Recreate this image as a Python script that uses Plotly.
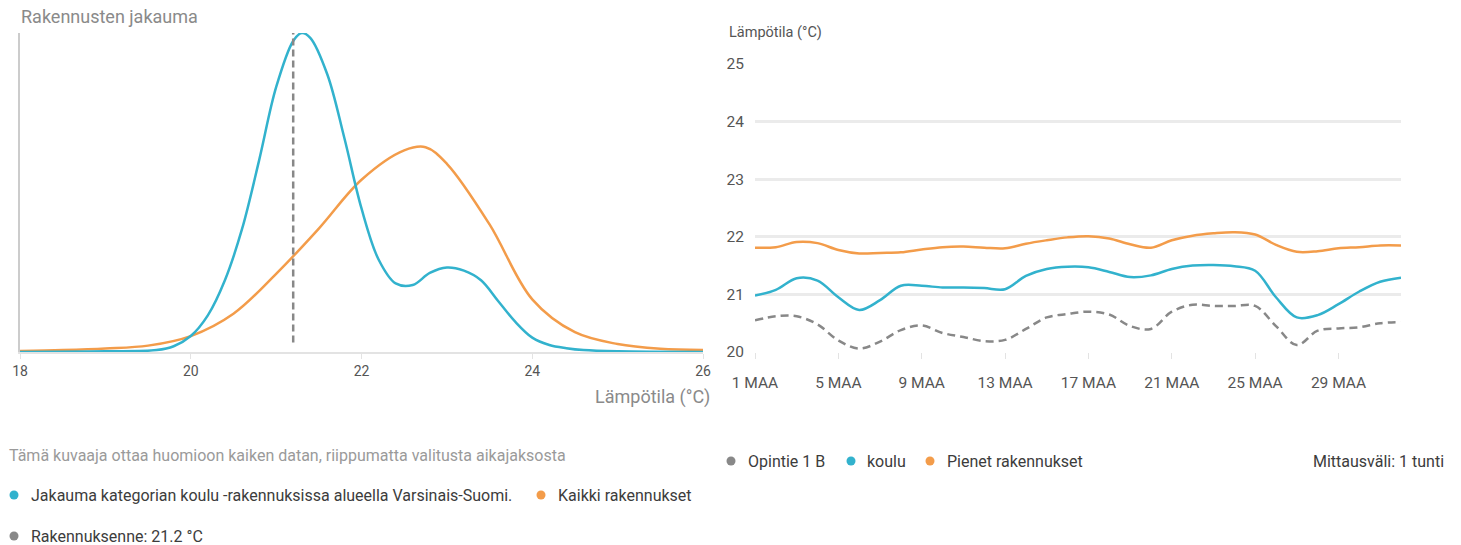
import plotly.graph_objects as go
import pandas as pd

W, H = 1461, 545

# ---------------- Data: distribution chart ----------------
dist_temps_koulu = [18.0, 19.0, 19.6, 19.8, 20.0, 20.2, 20.4, 20.6, 20.8, 21.0, 21.2, 21.3, 21.4,
                    21.6, 21.8, 22.0, 22.2, 22.4, 22.6, 22.8, 23.0, 23.2, 23.4, 23.6, 23.8,
                    24.0, 24.2, 24.4, 24.6, 25.0, 26.0]
dist_koulu = [0.0, 0.002, 0.006, 0.018, 0.05, 0.115, 0.225, 0.385, 0.60, 0.83, 0.975, 1.0, 0.985,
              0.87, 0.67, 0.45, 0.29, 0.215, 0.21, 0.248, 0.265, 0.255, 0.225, 0.16, 0.095,
              0.045, 0.022, 0.012, 0.006, 0.002, 0.0]

dist_temps_all = [18.0, 18.5, 19.0, 19.5, 20.0, 20.5, 21.0, 21.5, 22.0, 22.5, 22.75,
                  23.0, 23.5, 24.0, 24.5, 25.0, 25.5, 26.0]
dist_all = [0.003, 0.006, 0.011, 0.02, 0.05, 0.12, 0.245, 0.387, 0.54, 0.632, 0.642,
            0.59, 0.40, 0.165, 0.062, 0.025, 0.01, 0.006]

building_temp = 21.2
dist_ticks = [18, 20, 22, 24, 26]

# ---------------- Data: time series (March) ----------------
days = pd.date_range("2024-03-01", periods=32, freq="D")
opintie = [20.55, 20.62, 20.62, 20.48, 20.20, 20.06, 20.18, 20.38, 20.46, 20.33, 20.26,
           20.19, 20.21, 20.40, 20.60, 20.66, 20.70, 20.65, 20.45, 20.40, 20.70, 20.82,
           20.80, 20.80, 20.80, 20.45, 20.12, 20.37, 20.41, 20.43, 20.50, 20.52]
koulu = [20.98, 21.08, 21.28, 21.24, 20.95, 20.73, 20.90, 21.15, 21.15, 21.12, 21.12,
         21.11, 21.09, 21.32, 21.44, 21.48, 21.47, 21.39, 21.30, 21.33, 21.44, 21.50,
         21.51, 21.49, 21.41, 20.95, 20.60, 20.64, 20.83, 21.05, 21.22, 21.29]
pienet = [21.81, 21.82, 21.91, 21.89, 21.77, 21.71, 21.72, 21.73, 21.78, 21.82, 21.83,
          21.81, 21.80, 21.88, 21.94, 21.99, 22.01, 21.97, 21.87, 21.81, 21.94, 22.02,
          22.06, 22.08, 22.04, 21.86, 21.74, 21.75, 21.80, 21.82, 21.85, 21.85]
ts_tick_days = [1, 5, 9, 13, 17, 21, 25, 29]
ts_tick_labels = ["1 MAA", "5 MAA", "9 MAA", "13 MAA", "17 MAA", "21 MAA", "25 MAA", "29 MAA"]

BLUE = "#32b2cd"
ORANGE = "#f39c4a"
GRAY = "#888888"
FONT = "Roboto"


def px_x(p):
    return p / W


def px_y(p):
    return 1 - p / H


fig = go.Figure()

# Distribution chart
fig.add_trace(go.Scatter(x=dist_temps_all, y=dist_all, mode="lines",
                         line=dict(color=ORANGE, width=2.5, shape="spline"),
                         xaxis="x", yaxis="y", showlegend=False))
fig.add_trace(go.Scatter(x=dist_temps_koulu, y=dist_koulu, mode="lines",
                         line=dict(color=BLUE, width=2.5, shape="spline"),
                         xaxis="x", yaxis="y", showlegend=False))
fig.add_trace(go.Scatter(x=[building_temp, building_temp], y=[0.03, max(dist_koulu)], mode="lines",
                         line=dict(color=GRAY, width=2.5, dash="7px,4px"),
                         xaxis="x", yaxis="y", showlegend=False))

# Time series chart
fig.add_trace(go.Scatter(x=days, y=opintie, mode="lines",
                         line=dict(color=GRAY, width=2.5, dash="8px,5px", shape="spline"),
                         xaxis="x2", yaxis="y2", showlegend=False))
fig.add_trace(go.Scatter(x=days, y=koulu, mode="lines",
                         line=dict(color=BLUE, width=2.5, shape="spline"),
                         xaxis="x2", yaxis="y2", showlegend=False))
fig.add_trace(go.Scatter(x=days, y=pienet, mode="lines",
                         line=dict(color=ORANGE, width=2.5, shape="spline"),
                         xaxis="x2", yaxis="y2", showlegend=False))

tick_dates = [days[d - 1] for d in ts_tick_days]

fig.update_layout(
    width=W, height=H,
    margin=dict(l=0, r=0, t=0, b=0, autoexpand=False),
    paper_bgcolor="white", plot_bgcolor="white",
    font=dict(family=FONT, color="#555555"),
    xaxis=dict(domain=[px_x(20), px_x(703)], range=[18, 26], tickvals=dist_ticks,
               automargin=False,
               showgrid=False, zeroline=False, showline=True, linecolor="#e3e3e3", linewidth=2,
               ticks="outside", ticklen=5, tickcolor="#e3e3e3", tickwidth=1,
               tickfont=dict(size=14, color="#555555"), anchor="y"),
    yaxis=dict(domain=[px_y(352), px_y(33)], range=[0, 1.0], showticklabels=False,
               automargin=False,
               showgrid=False, zeroline=False, showline=True, linecolor="#cccccc", linewidth=1.5,
               ticks="", anchor="x"),
    xaxis2=dict(domain=[px_x(755), px_x(1401)], range=[days[0], days[-1]],
                tickvals=tick_dates, ticktext=ts_tick_labels, automargin=False,
                showgrid=False, zeroline=False, showline=False,
                ticks="outside", ticklen=6, tickcolor="#e3e3e3", tickwidth=1,
                ticklabelstandoff=10,
                tickfont=dict(size=15.5, color="#555555"), anchor="y2"),
    yaxis2=dict(domain=[px_y(352), px_y(64)], range=[20, 25], dtick=1, automargin=False,
                showgrid=True, gridcolor="#ebebeb", gridwidth=2.5, zeroline=False,
                showline=False, ticks="", ticklabelstandoff=10,
                tickfont=dict(size=15.5, color="#555555"), anchor="x2"),
)

TXT = "#3c3c3c"
annotations = [
    dict(text="Rakennusten jakauma", x=px_x(19), y=px_y(16), xanchor="left", yanchor="middle",
         font=dict(size=18, color="#8a8a8a")),
    dict(text="Lämpötila (°C)", x=px_x(712), y=px_y(397), xanchor="right", yanchor="middle",
         font=dict(size=18, color="#8a8a8a")),
    dict(text="Lämpötila (°C)", x=px_x(727), y=px_y(32), xanchor="left", yanchor="middle",
         font=dict(size=14.5, color="#555555")),
    dict(text="Tämä kuvaaja ottaa huomioon kaiken datan, riippumatta valitusta aikajaksosta",
         x=px_x(7), y=px_y(455), xanchor="left", yanchor="middle",
         font=dict(size=16, color="#9a9a9a")),
    dict(text="Jakauma kategorian koulu -rakennuksissa alueella Varsinais-Suomi.",
         x=px_x(29), y=px_y(495), xanchor="left", yanchor="middle",
         font=dict(size=16, color=TXT)),
    dict(text="Kaikki rakennukset", x=px_x(556), y=px_y(495), xanchor="left", yanchor="middle",
         font=dict(size=16, color=TXT)),
    dict(text="Rakennuksenne: 21.2 °C", x=px_x(29), y=px_y(536), xanchor="left", yanchor="middle",
         font=dict(size=16, color=TXT)),
    dict(text="Opintie 1 B", x=px_x(746), y=px_y(461), xanchor="left", yanchor="middle",
         font=dict(size=16, color=TXT)),
    dict(text="koulu", x=px_x(865), y=px_y(461), xanchor="left", yanchor="middle",
         font=dict(size=16, color=TXT)),
    dict(text="Pienet rakennukset", x=px_x(945), y=px_y(461), xanchor="left", yanchor="middle",
         font=dict(size=16, color=TXT)),
    dict(text="Mittausväli: 1 tunti", x=px_x(1446), y=px_y(461), xanchor="right", yanchor="middle",
         font=dict(size=16, color=TXT)),
]
for a in annotations:
    a.update(xref="paper", yref="paper", showarrow=False)
fig.update_layout(annotations=annotations)

dots = [(14, 495, BLUE), (541, 495, ORANGE), (14, 536, GRAY),
        (731, 461, GRAY), (851, 461, BLUE), (930, 461, ORANGE)]
shapes = []
for cx, cy, col in dots:
    shapes.append(dict(type="circle", xref="paper", yref="paper",
                       x0=px_x(cx - 4.5), x1=px_x(cx + 4.5), y0=px_y(cy + 4.5), y1=px_y(cy - 4.5),
                       fillcolor=col, line=dict(width=0)))
fig.update_layout(shapes=shapes)

fig.write_html("out.html", config={"displayModeBar": False},
               post_script="document.body.style.margin='0px';document.body.style.overflow='hidden';")
